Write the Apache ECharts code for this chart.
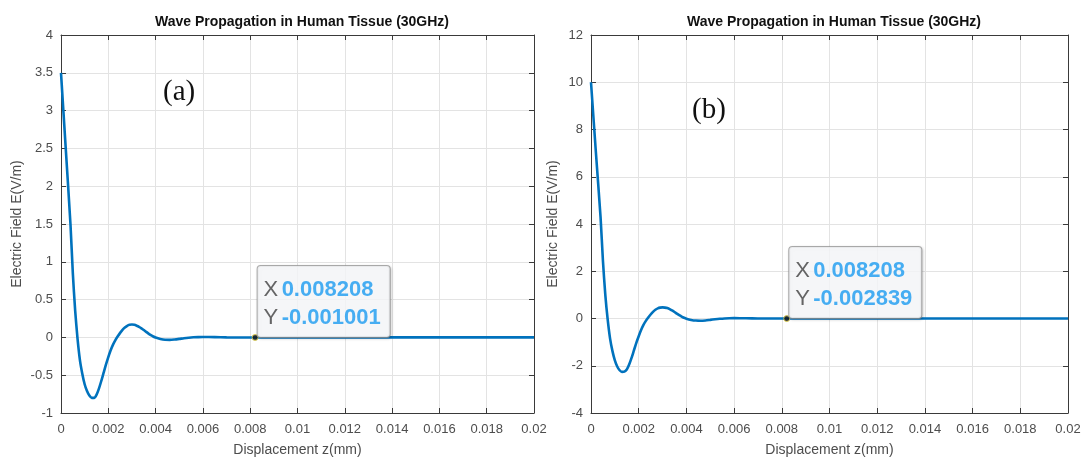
<!DOCTYPE html>
<html>
<head>
<meta charset="utf-8">
<script src="https://cdn.jsdelivr.net/npm/echarts@6/dist/echarts.min.js"></script>
<style>
html,body{margin:0;padding:0;background:#fff;}
#chart{width:1086px;height:462px;}
</style>
</head>
<body>
<div id="chart"></div>
<script>
// Displacement z (mm)
const zValues = [0,0.0002,0.0004,0.0005,0.0006,0.0007,0.0008,0.0009,0.001,0.0011,0.0012,0.0013,0.0014,0.0015,0.0016,0.0017,0.0018,0.0019,0.002,0.0021,0.0022,0.0023,0.0024,0.0025,0.0026,0.0027,0.0028,0.0029,0.003,0.0031,0.0032,0.0033,0.0034,0.0035,0.0036,0.0037,0.0038,0.0039,0.004,0.0042,0.0044,0.0046,0.0048,0.005,0.0052,0.0054,0.0056,0.0058,0.006,0.0065,0.007,0.0075,0.008208,0.01,0.012,0.014,0.016,0.018,0.02];
// Panel (a) electric field E (V/m)
const fieldA = [3.5,2.5,1.5,0.85,0.35,-0.02,-0.3,-0.48,-0.62,-0.71,-0.77,-0.8,-0.8,-0.76,-0.68,-0.58,-0.47,-0.36,-0.26,-0.17,-0.095,-0.035,0.015,0.06,0.1,0.13,0.153,0.166,0.17,0.166,0.155,0.14,0.12,0.097,0.073,0.05,0.03,0.012,-0.002,-0.02,-0.031,-0.033,-0.028,-0.02,-0.011,-0.004,0.001,0.004,0.005,0.004,0.0,-0.001,-0.001001,0,0,0,0,0,0];
// Panel (b) electric field E (V/m)
const fieldB = [10,7.1,4.3,2.45,1.0,-0.05,-0.85,-1.38,-1.77,-2.03,-2.19,-2.26,-2.25,-2.16,-1.95,-1.67,-1.35,-1.03,-0.75,-0.49,-0.27,-0.1,0.04,0.17,0.28,0.37,0.43,0.46,0.47,0.46,0.44,0.4,0.34,0.275,0.205,0.14,0.08,0.03,-0.01,-0.06,-0.088,-0.095,-0.082,-0.058,-0.033,-0.012,0.003,0.011,0.014,0.01,0.0,-0.003,-0.002839,0,0,0,0,0,0];
// Data tips
const tipX = 0.008208;
const tipYA = -0.001001;
const tipYB = -0.002839;

const titleText = 'Wave Propagation in Human Tissue (30GHz)';
const xName = 'Displacement z(mm)';
const yName = 'Electric Field E(V/m)';
const panelLabels = ['(a)', '(b)'];

const chart = echarts.init(document.getElementById('chart'));

const FONT = 'Liberation Sans, Arial, Helvetica, sans-serif';
const axisColor = '#3a3a3a';
const labelColor = '#4d4d4d';
const gridColor = '#e3e3e3';

function mainX(gridIndex) {
  return {
    type: 'value', gridIndex, min: 0, max: 0.02, interval: 0.002,
    name: xName, nameLocation: 'middle', nameGap: 30,
    nameTextStyle: { color: labelColor, fontSize: 14, fontFamily: FONT },
    axisLine: { show: true, onZero: false, lineStyle: { color: axisColor, width: 1 } },
    axisTick: { show: true, inside: true, length: 5, lineStyle: { color: axisColor } },
    axisLabel: { color: labelColor, fontSize: 13, fontFamily: FONT, margin: 10,
      formatter: v => String(+v.toFixed(4)) },
    splitLine: { show: true, lineStyle: { color: gridColor, width: 1 } }
  };
}
function topX(gridIndex) {
  return {
    type: 'value', gridIndex, min: 0, max: 0.02, interval: 0.002, position: 'top',
    axisLine: { show: true, onZero: false, lineStyle: { color: axisColor, width: 1 } },
    axisTick: { show: true, inside: true, length: 5, lineStyle: { color: axisColor } },
    axisLabel: { show: false }, splitLine: { show: false }
  };
}
function mainY(gridIndex, min, max, interval, gap) {
  return {
    type: 'value', gridIndex, min, max, interval,
    name: yName, nameLocation: 'middle', nameGap: gap, nameRotate: 90,
    nameTextStyle: { color: labelColor, fontSize: 14, fontFamily: FONT },
    axisLine: { show: true, onZero: false, lineStyle: { color: axisColor, width: 1 } },
    axisTick: { show: true, inside: true, length: 5, lineStyle: { color: axisColor } },
    axisLabel: { color: labelColor, fontSize: 13, fontFamily: FONT, margin: 8,
      formatter: v => String(+v.toFixed(3)) },
    splitLine: { show: true, lineStyle: { color: gridColor, width: 1 } }
  };
}
function rightY(gridIndex, min, max, interval) {
  return {
    type: 'value', gridIndex, min, max, interval, position: 'right',
    axisLine: { show: true, onZero: false, lineStyle: { color: axisColor, width: 1 } },
    axisTick: { show: true, inside: true, length: 5, lineStyle: { color: axisColor } },
    axisLabel: { show: false }, splitLine: { show: false }
  };
}

function tipSeries(xi, yi, yVal) {
  return {
    type: 'scatter', xAxisIndex: xi, yAxisIndex: yi, z: 10,
    data: [[tipX, yVal]],
    symbol: 'circle', symbolSize: 6,
    itemStyle: { color: '#111', borderColor: '#e8d84a', borderWidth: 1 },
    label: {
      show: true,
      position: [6, 3],
      align: 'left', verticalAlign: 'bottom',
      backgroundColor: '#fbfcff',
      borderColor: '#9a9a9a', borderWidth: 1, borderRadius: 3,
      shadowColor: 'rgba(0,0,0,0.18)', shadowBlur: 3, shadowOffsetX: 1, shadowOffsetY: 1,
      padding: [10, 9, 5, 6],
      formatter: () => '{k|X} {v|' + tipX.toFixed(6) + '}\n{k|Y} {v|' + yVal.toFixed(6) + '}',
      rich: {
        k: { color: '#404040', fontSize: 22, fontFamily: FONT, lineHeight: 28 },
        v: { color: '#1a9bf0', fontSize: 22, fontWeight: 'bold', fontFamily: FONT, lineHeight: 28 }
      }
    },
    silent: true
  };
}

const option = {
  backgroundColor: '#ffffff',
  animation: false,
  title: [
    { text: titleText, left: 297, top: 10, textAlign: 'center',
      textStyle: { fontSize: 14, fontWeight: 'bold', color: '#111', fontFamily: FONT } },
    { text: titleText, left: 829, top: 10, textAlign: 'center',
      textStyle: { fontSize: 14, fontWeight: 'bold', color: '#111', fontFamily: FONT } }
  ],
  grid: [
    { left: 61, top: 35, width: 473, height: 380 },
    { left: 591, top: 35, width: 477, height: 381 }
  ],
  xAxis: [mainX(0), mainX(1), topX(0), topX(1)],
  yAxis: [mainY(0, -1, 4, 0.5, 37), mainY(1, -4, 12, 2, 31), rightY(0, -1, 4, 0.5), rightY(1, -4, 12, 2)],
  graphic: [
    { type: 'text', left: 163, top: 78, style: { text: panelLabels[0], fontSize: 29, fontFamily: 'Liberation Serif, Times New Roman, serif', fill: '#111' } },
    { type: 'text', left: 692, top: 96, style: { text: panelLabels[1], fontSize: 29, fontFamily: 'Liberation Serif, Times New Roman, serif', fill: '#111' } }
  ],
  series: [
    { type: 'line', xAxisIndex: 0, yAxisIndex: 0, data: zValues.map((z, i) => [z, fieldA[i]]),
      showSymbol: false, smooth: 0.25, lineStyle: { color: '#0072BD', width: 2.6 } },
    { type: 'line', xAxisIndex: 1, yAxisIndex: 1, data: zValues.map((z, i) => [z, fieldB[i]]),
      showSymbol: false, smooth: 0.25, lineStyle: { color: '#0072BD', width: 2.6 } },
    tipSeries(0, 0, tipYA),
    tipSeries(1, 1, tipYB)
  ]
};
chart.setOption(option);
</script>
</body>
</html>
